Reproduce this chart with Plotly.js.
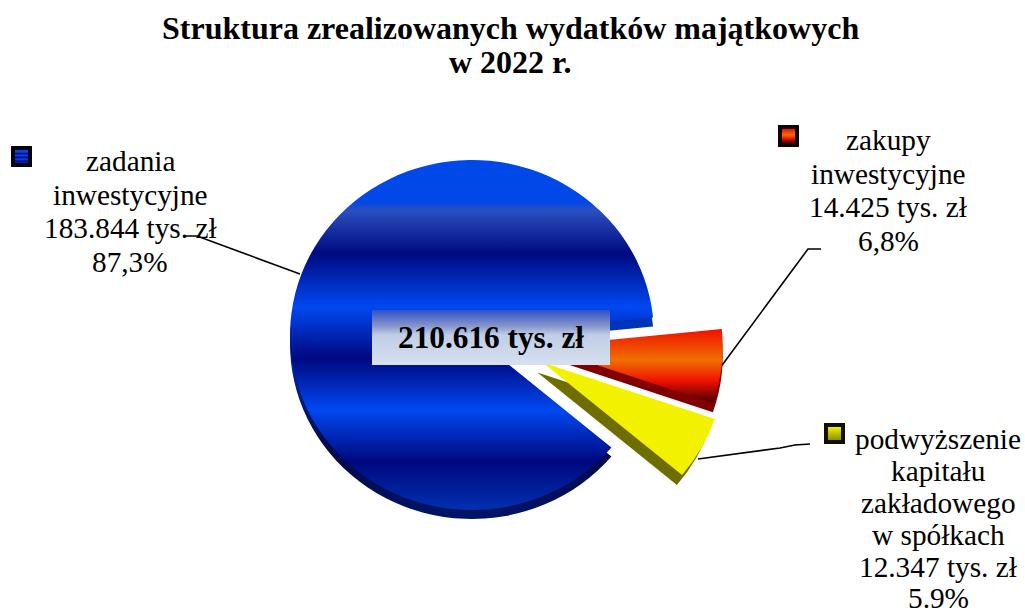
<!DOCTYPE html>
<html><head><meta charset="utf-8">
<script src="https://cdn.plot.ly/plotly-3.0.1.min.js"></script>
<style>html,body{margin:0;background:#fff}#c{width:1025px;height:616px}</style></head>
<body><div id="c"></div>
<script>
var categories = ["zadania inwestycyjne","zakupy inwestycyjne","podwyższenie kapitału zakładowego w spółkach"];
var values = [183844,14425,12347];
var pulls = [0,0.38,0.4];
var rimColors = ["#001468","#800000","#6e6e00"];
var faceColors = ["#0030d0","#f04000","#f2f200"];
var labelLines1 = ["zadania","inwestycyjne","183.844 tys. zł","87,3%"];
var labelLines2 = ["zakupy","inwestycyjne","14.425 tys. zł","6,8%"];
var labelLines3 = ["podwyższenie","kapitału","zakładowego","w spółkach","12.347 tys. zł","5.9%"];
var titleLines = ["Struktura zrealizowanych wydatków majątkowych","w 2022 r."];
var totalText = "210.616 tys. zł";
var W=1025,H=616;
var CX=472,CY=335,R=175,SX=1.04;
function dom(cx,cy,r){return {x:[(cx-r)/W,(cx+r)/W],y:[1-(cy+r)/H,1-(cy-r)/H]};}
function pie(colors,dy){return {type:'pie',labels:categories,values:values,pull:pulls,sort:false,direction:'clockwise',rotation:130,
 textinfo:'none',hoverinfo:'skip',showlegend:false,marker:{colors:colors,line:{width:0}},domain:dom(CX,CY+dy,R*1.4)};}
var serif='"Liberation Serif","Times New Roman",serif';
function note(x,y,t,size){return {xref:'paper',yref:'paper',x:x/W,y:1-y/H,text:t,showarrow:false,xanchor:'center',yanchor:'middle',align:'center',font:{family:serif,size:size||29.3,color:'#000'}};}
function block(x,ys,lines){return lines.map(function(t,i){return note(x,ys[i],t);});}
function line(pts){return {type:'path',xref:'paper',yref:'paper',path:pts.map(function(p,i){return (i?'L':'M')+(p[0]/W)+','+(1-p[1]/H);}).join(' '),line:{color:'#000',width:1.6},layer:'below'};}
function rect(x0,y0,x1,y1,fill){return {type:'rect',xref:'paper',yref:'paper',x0:x0/W,x1:x1/W,y0:1-y0/H,y1:1-y1/H,fillcolor:fill,line:{width:0},layer:'above'};}
var notes=[
  note(510,28,"<b>"+titleLines[0]+"</b>",32),
  note(510,62,"<b>"+titleLines[1]+"</b>",32),
  note(490.5,337,"<b>"+totalText+"</b>",31.3)
 ].concat(block(130,[161,195,228,262],labelLines1),block(888,[140,174,207,241],labelLines2),block(938,[439,471,503,535,567,598],labelLines3));
var layout={width:W,height:H,margin:{l:0,r:0,t:0,b:0},paper_bgcolor:'#fff',showlegend:false,
 annotations:notes,
 shapes:[
  line([[185,236],[197,236],[300,274]]),
  line([[720,368],[808,249],[821,249]]),
  line([[698,459],[780,448],[795,445],[810,444]]),
  rect(372,310,610,365,'#b0c0e0'),
  rect(11,146,32,167,'#000010'), rect(15,150,28,163,'#0030d1'),
  rect(778,125,799,147,'#100000'), rect(782,129,795,143,'#f04001'),
  rect(824,423,845,444,'#101000'), rect(828,427,841,440,'#e8e801')
 ]};
Plotly.newPlot('c',[pie(rimColors,9),pie(faceColors,0)],layout,{staticPlot:true,displayModeBar:false}).then(function(gd){
 var svg=gd.querySelector('svg.main-svg');
 var ns='http://www.w3.org/2000/svg';
 var defs=svg.querySelector('defs')||svg.insertBefore(document.createElementNS(ns,'defs'),svg.firstChild);
 function grad(id,stops){var g=document.createElementNS(ns,'linearGradient');g.setAttribute('id',id);g.setAttribute('x1','0');g.setAttribute('x2','0');g.setAttribute('y1','0');g.setAttribute('y2','1');
  stops.forEach(function(s){var e=document.createElementNS(ns,'stop');e.setAttribute('offset',s[0]);e.setAttribute('stop-color',s[1]);g.appendChild(e);});defs.appendChild(g);}
 grad('gb',[[0,'#0048e8'],[0.12,'#0048e8'],[0.143,'#2a50c0'],[0.267,'#000a80'],[0.42,'#0048f0'],[0.567,'#000880'],[0.714,'#0048f0'],[0.862,'#000880'],[1,'#0030b0']]);
 grad('gbr',[[0,'#0038c0'],[0.47,'#0034b8'],[0.8,'#000848'],[1,'#001468']]);
 grad('gr',[[0,'#f01000'],[0.42,'#f07000'],[0.7,'#f01000'],[0.95,'#600000'],[1,'#600000']]);
 grad('gy',[[0,'#f2f200'],[1,'#f2f200']]);
 grad('gt',[[0,'#3050c8'],[0.3,'#8898cc'],[0.45,'#c0cde6'],[1,'#d6e0f0']]);
 grad('gk',[[0,'#f0f000'],[1,'#909000']]);
 var traces=gd.querySelectorAll('.pielayer .trace');
 var top=traces[traces.length-1].querySelectorAll('.slice path.surface');
 var rim=traces[0].querySelectorAll('.slice path.surface');
 ['gb','gr','gy'].forEach(function(id,i){top[i].style.setProperty('fill','url(#'+id+')');});
 rim[0].style.setProperty('fill','url(#gbr)');
 top[1].setAttribute('transform','translate(0,4)'); rim[1].setAttribute('transform','translate(0,4)');
 top[2].setAttribute('transform','translate(7,-7)'); rim[2].setAttribute('transform','translate(2,-6)');
 gd.querySelector('.pielayer').setAttribute('transform','translate('+CX+',0) scale('+SX+',1) translate('+(-CX)+',0)');
 var map={'rgb(176, 192, 224)':'gt','rgb(0, 48, 209)':'gb','rgb(240, 64, 1)':'gr','rgb(232, 232, 1)':'gk'};
 gd.querySelectorAll('.shapelayer path').forEach(function(p){var id=map[p.style.fill]; if(id) p.style.setProperty('fill','url(#'+id+')');});
});
</script></body></html>
